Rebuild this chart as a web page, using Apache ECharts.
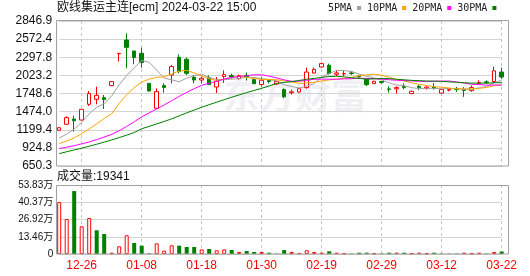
<!DOCTYPE html>
<html>
<head>
<meta charset="utf-8">
<script src="https://cdn.jsdelivr.net/npm/echarts@6/dist/echarts.min.js"></script>
<style>
html,body{margin:0;padding:0;background:#fff;}
#c{width:530px;height:276px;}
</style>
</head>
<body>
<div id="c"></div>
<script>
// ---- data ----
const dates = ['12-21','12-22','12-25','12-26','12-27','12-28','12-29',
  '01-02','01-03','01-04','01-05','01-08','01-09','01-10','01-11','01-12','01-15','01-16','01-17','01-18','01-19',
  '01-22','01-23','01-24','01-25','01-26','01-29','01-30','01-31',
  '02-01','02-02','02-05','02-06','02-07','02-08','02-19','02-20','02-21','02-22','02-23','02-26','02-27','02-28','02-29',
  '03-01','03-04','03-05','03-06','03-07','03-08','03-11','03-12','03-13','03-14','03-15','03-18','03-19','03-20','03-21','03-22'];
const open = [1190,1282,1362,1347,1585,1661,1686,1868,2352,2559,2392,2358,1903,1524,1868,2029,2297,2267,1994,1953,
  1989,1847,2005,2020,1974,2024,1959,1885,1950,1893,1808,1760,1771,1838,2059,2150,2176,2040,2045,2060,
  2010,1964,1898,1930,1818,1820,1853,1747,1858,1830,1846,1755,1800,1825,1812,1792,1906,1925,1930,2074];
const close = [1230,1383,1335,1509,1747,1721,1656,1929,2357,2448,2292,2217,1786,1777,1838,2156,2080,2054,1953,1979,
  1883,1933,2035,1998,2020,1998,1898,1950,1930,1930,1698,1775,1822,2074,2115,2201,2050,2060,2050,2050,
  2000,1883,1934,1915,1812,1838,1838,1782,1838,1845,1826,1808,1812,1812,1795,1838,1915,1915,2092,1998];
const high = [1240,1405,1414,1515,1786,1853,1726,1935,2360,2660,2395,2444,1905,1827,1903,2180,2342,2292,2029,2005,
  2024,1998,2100,2050,2035,2065,1965,1994,1960,1935,1827,1808,1835,2141,2141,2217,2201,2100,2090,2090,
  2030,1970,1940,1940,1858,1858,1900,1790,1880,1858,1906,1815,1832,1848,1845,1870,1950,1950,2156,2141];
const low = [1180,1270,1171,1340,1559,1585,1514,1862,2232,2130,2191,2141,1780,1520,1762,1903,2054,2029,1903,1903,
  1880,1756,1908,1974,1960,1944,1890,1854,1900,1880,1675,1732,1760,1820,2050,2141,2035,2010,2015,2030,
  1990,1860,1890,1890,1762,1747,1812,1740,1800,1808,1808,1745,1780,1772,1697,1775,1882,1895,1905,1970];
const ma5 = [1074,1133,1210,1312,1441,1539,1594,1712,1882,2022,2136,2249,2220,2104,1982,1955,1927,1981,2016,2044,
  1990,1960,1957,1966,1974,1997,1990,1972,1958,1940,1880,1856,1831,1860,1897,1997,2052,2100,2095,2082,
  2042,2009,1983,1956,1909,1876,1867,1837,1822,1828,1826,1820,1826,1821,1811,1813,1834,1855,1911,1952];
const ma10 = [989,1030,1075,1141,1210,1290,1370,1444,1597,1732,1838,1921,1966,1993,2002,2046,2088,2100,2060,2013,
  1972,1944,1969,1991,2009,1993,1975,1964,1962,1957,1939,1923,1901,1909,1919,1939,1954,1966,1978,1990,
  2020,2031,2042,2026,1996,1959,1938,1910,1889,1869,1851,1844,1831,1821,1819,1819,1827,1840,1866,1881];
const ma20 = [914,935,958,985,1015,1050,1088,1130,1185,1250,1320,1395,1455,1515,1575,1640,1705,1765,1822,1872,
  1905,1933,1968,1992,2006,2019,2032,2032,2011,1985,1955,1933,1935,1950,1964,1966,1965,1965,1970,1973,
  1979,1977,1972,1967,1957,1949,1946,1938,1933,1929,1935,1937,1937,1923,1907,1889,1883,1875,1877,1875];
const ma30 = [838,866,893,920,950,980,1012,1045,1080,1118,1158,1215,1250,1288,1325,1365,1410,1455,1498,1540,
  1580,1617,1655,1692,1728,1762,1795,1828,1862,1901,1916,1929,1945,1964,1977,1993,2006,2010,2000,1987,
  1977,1966,1971,1975,1974,1964,1956,1947,1943,1938,1936,1932,1925,1919,1911,1906,1906,1905,1911,1913];
const volume = [405000,273000,491000,216000,281000,185000,156000,10000,60000,146000,
  86000,65000,5000,83000,26000,68000,65000,55000,55000,36000,
  39000,29000,36000,31000,16000,23000,16000,16000,10000,3000,
  31000,16000,8000,29000,16000,10000,21000,10000,5000,3000,
  10000,10000,5000,3000,10000,10000,10000,5000,10000,5000,
  10000,3000,3000,3000,10000,5000,10000,3000,16000,19341];
const volUp = [1,1,0,1,1,0,0,1,1,1, 0,0,0,1,1,1,0,0,0,1, 0,1,1,0,1,0,0,1,0,0,
  0,1,1,1,1,1,0,1,1,0, 0,0,1,0,0,1,0,1,1,1, 0,0,0,0,1,1,1,0,1,0];
const priceLabels = ['650.3','924.8','1199.4','1474.0','1748.6','2023.2','2297.8','2572.4','2846.9'];
const volTicks = [0,134575,269150,403725,538300];
const volLabels = ['0','13.46万','26.92万','40.37万','53.83万'];
const maNames = ['5PMA','10PMA','20PMA','30PMA'];
const titleText = '欧线集运主连[ecm] 2024-03-22 15:00';

// ---- chart ----
const RED = '#ff0000', GREEN = '#008000';
const maColors = ['#a0a0a0','#ffa500','#ff00ff','#007f00'];
const maData = [ma5, ma10, ma20, ma30];
const labelIdx = (i) => i % 8 === 3;
const splitX = {show:true, interval: labelIdx, lineStyle:{color:'#c4c4c4', type:[3,3], width:1}};
const hGrid = {show:true, lineStyle:{color:'#d4d4d4', width:1}};

const candles = open.map((o,i)=>[o, close[i], low[i], high[i]]);
const volData = volume.map((v,i)=>({
  value: v,
  itemStyle: volUp[i] ? {color:'#ffffff', borderColor:RED, borderWidth:1} : {color:GREEN, borderColor:GREEN, borderWidth:0}
}));

const chart = echarts.init(document.getElementById('c'), null, {renderer:'canvas'});
const option = {
  animation:false,
  backgroundColor:'#ffffff',
  textStyle:{fontFamily:'"Liberation Sans", "Noto Sans CJK SC", sans-serif'},
  title:[
    {text:titleText, left:57, top:2, padding:0,
     textStyle:{fontSize:12, fontWeight:'normal', color:'#111', fontFamily:'"Liberation Sans", "Noto Sans CJK SC", sans-serif'}},
    {text:'成交量:' + volume[volume.length-1], left:57, top:171, padding:0,
     textStyle:{fontSize:12, fontWeight:'normal', color:'#111', fontFamily:'"Liberation Sans", "Noto Sans CJK SC", sans-serif'}}
  ],
  legend:{
    data: maNames, left:328, top:3, padding:0, align:'right', icon:'rect',
    itemWidth:4, itemHeight:4, itemGap:6, selectedMode:false,
    textStyle:{fontSize:10, color:'#222', fontFamily:'"DejaVu Sans Mono", monospace'}
  },
  graphic:[
    {type:'text', left:223, top:77, z:-1, silent:true,
     style:{text:'东方财富', font:'bold 36px "Noto Sans CJK SC"', fill:'rgba(205,205,218,0.3)'}},
    {type:'rect', z:100, silent:true, shape:{x:56.5, y:20.5, width:452, height:145.5},
     style:{fill:'none', stroke:'#a0a0a0', lineWidth:1}},
    {type:'rect', z:100, silent:true, shape:{x:56.5, y:185.5, width:452, height:68.5},
     style:{fill:'none', stroke:'#a0a0a0', lineWidth:1}}
  ],
  grid:[
    {left:59.2, width:442.5, top:21, height:145},
    {left:59.2, width:442.5, top:185, height:69}
  ],
  xAxis:[
    {type:'category', gridIndex:0, data:dates, boundaryGap:false,
     axisLine:{show:false}, axisTick:{show:false}, axisLabel:{show:false}, splitLine:splitX},
    {type:'category', gridIndex:1, data:dates, boundaryGap:false,
     axisLine:{show:false}, axisTick:{show:false},
     axisLabel:{interval:labelIdx, color:RED, fontSize:12, margin:6, hideOverlap:false,
       fontFamily:'"Liberation Sans", sans-serif'},
     splitLine:splitX}
  ],
  yAxis:[
    {type:'value', gridIndex:0, min:parseFloat(priceLabels[0]), max:parseFloat(priceLabels[priceLabels.length-1]),
     show:false, splitLine:{show:false}},
    {type:'value', gridIndex:0, min:0, max:priceLabels.length-1, interval:1, position:'left',
     axisLine:{show:false}, axisTick:{show:false}, splitLine:hGrid,
     axisLabel:{fontSize:12, color:'#111', margin:7, formatter:(v)=>priceLabels[Math.round(v)],
       fontFamily:'"Liberation Sans", sans-serif'}},
    {type:'value', gridIndex:1, min:volTicks[0], max:volTicks[volTicks.length-1],
     interval:volTicks[1]-volTicks[0], position:'left',
     axisLine:{show:false}, axisTick:{show:false}, splitLine:hGrid,
     axisLabel:{fontSize:10, color:'#111', margin:6,
       formatter:(v)=>volLabels[Math.round(v/(volTicks[1]-volTicks[0]))],
       fontFamily:'"Liberation Sans", "Noto Sans CJK SC", sans-serif'}}
  ],
  series:[
    {type:'candlestick', name:'K', xAxisIndex:0, yAxisIndex:0, data:candles, barWidth:4, clip:false,
     itemStyle:{color:'#ffffff', color0:GREEN, borderColor:RED, borderColor0:GREEN, borderWidth:1}},
    ...maNames.map((n,k)=>({
      type:'line', name:n, xAxisIndex:0, yAxisIndex:0, data:maData[k], symbol:'none', silent:true,
      lineStyle:{color:maColors[k], width:1}, itemStyle:{color:maColors[k]}, z:3
    })),
    {type:'bar', name:'VOL', xAxisIndex:1, yAxisIndex:2, data:volData, barWidth:4, clip:false}
  ]
};
chart.setOption(option);
</script>
</body>
</html>
